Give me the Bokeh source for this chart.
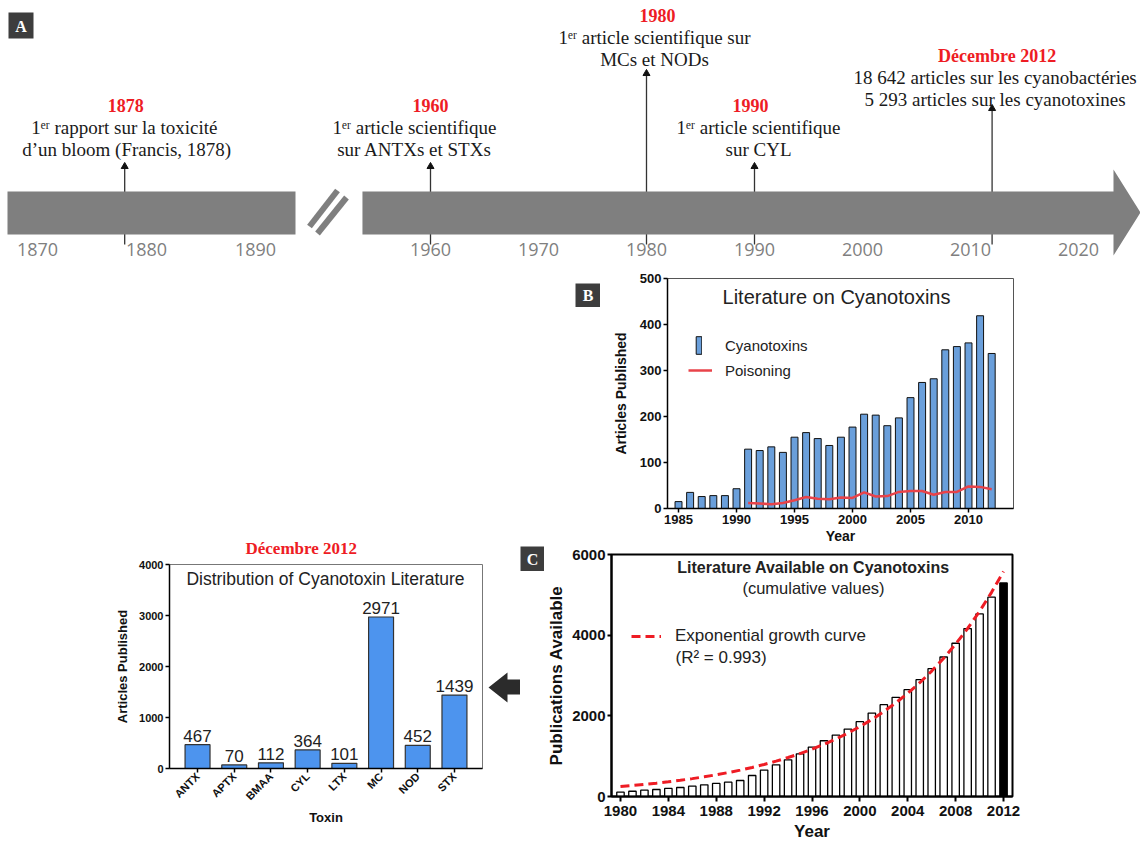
import math
from bokeh.plotting import figure
from bokeh.models import Range1d, FactorRange, Label, Legend, LegendItem, Spacer, FixedTicker
from bokeh.layouts import column, row
from bokeh.embed import file_html
from bokeh.resources import INLINE
from bokeh.core.properties import value

SERIF = "Liberation Serif"
SANS = "Liberation Sans"
RED = "#ee1c24"
TL_GRAY = "#7f7f7f"
BOX_GRAY = "#3d3d3d"

# ---------------- DATA ----------------
timeline_ticks_early = [1870, 1880, 1890]
timeline_ticks_late = [1960, 1970, 1980, 1990, 2000, 2010, 2020]

event_years_early = [1878]
event_titles_early = ["1878"]
event_line1_early = ["1ᵉʳ rapport  sur la toxicité"]
event_line2_early = ["d’un bloom (Francis, 1878)"]

event_years_late = [1960, 1980, 1990, 2012]
event_titles_late = ["1960", "1980", "1990", "Décembre 2012"]
event_line1_late = ["1ᵉʳ article scientifique", "1ᵉʳ article scientifique sur",
                    "1ᵉʳ article scientifique", "18 642 articles sur les cyanobactéries"]
event_line2_late = ["sur ANTXs et STXs", "MCs et NODs", "sur CYL",
                    "5 293 articles sur les cyanotoxines"]

years_b = list(range(1985, 2013))
cyanotoxins_b = [15, 35, 26, 28, 28, 43, 129, 126, 134, 122, 155, 165, 152, 137,
                 155, 177, 205, 203, 180, 197, 241, 274, 282, 345, 352, 360, 419, 337]
years_poison = list(range(1991, 2013))
poisoning_b = [12, 11, 9, 12, 18, 25, 21, 20, 24, 23, 35, 26, 27, 36, 38, 38,
               30, 36, 36, 48, 47, 42]

years_c = list(range(1980, 2013))
cumulative_c = [108, 130, 157, 174, 200, 223, 257, 290, 323, 356, 397, 521, 654,
                786, 910, 1059, 1225, 1382, 1523, 1672, 1854, 2069, 2276, 2458,
                2648, 2897, 3170, 3459, 3799, 4163, 4527, 4941, 5293]
growth_curve_c = [247, 272, 300, 331, 365, 402, 443, 488, 538, 593, 654, 721, 795,
                  876, 966, 1065, 1174, 1294, 1426, 1572, 1733, 1910, 2106, 2321,
                  2559, 2821, 3110, 3428, 3779, 4166, 4592, 5062, 5580]

toxins = ["ANTX", "APTX", "BMAA", "CYL", "LTX", "MC", "NOD", "STX"]
toxin_counts = [467, 70, 112, 364, 101, 2971, 452, 1439]

# ---------------- LAYOUT POSITIONS (panel A, pixel rows / offsets) ----------------
title_y_early = [105]
title_y_late = [105, 15, 105, 55]
tip_y_early = [163]
tip_y_late = [163, 70, 163, 105]
title_dx_early = [1]
title_dx_late = [0, 11, -4, 5]
text_dx_early = [2]
text_dx_late = [-16, 8, 4, 3]


def common(**kw):
    return dict(output_backend="svg", toolbar_location=None, **kw)


# ---------------- PANEL A : timeline ----------------
pa = figure(width=1140, height=267, x_range=Range1d(0, 1140), y_range=Range1d(267, 0),
            x_axis_location=None, y_axis_location=None, min_border=0,
            outline_line_color=None, **common())
pa.grid.visible = False
pa.extra_x_ranges = {"early": Range1d(1866.606, 1971.193),
                     "late": Range1d(1920.185, 2025.741)}


def events(xs, titles, l1, l2, ty, tips, tdx, ldx, rng):
    pa.segment(x0=xs, y0=[244] * len(xs), x1=xs, y1=[t + 4 for t in tips],
               line_color="#333333", line_width=1.3, x_range_name=rng)
    pa.scatter(x=xs, y=[t + 3 for t in tips], marker="triangle", size=7,
               fill_color="#111111", line_color="#111111", x_range_name=rng)
    pa.text(x=xs, y=ty, text=titles, x_offset=tdx, x_range_name=rng, text_align="center",
            text_baseline="middle", text_font=value(SERIF), text_font_style="bold",
            text_font_size="18px", text_color=RED)
    pa.text(x=xs, y=[t + 22 for t in ty], text=l1, x_offset=ldx, x_range_name=rng,
            text_align="center", text_baseline="middle", text_font=value(SERIF),
            text_font_size="19px", text_color="#1a1a1a")
    pa.text(x=xs, y=[t + 44 for t in ty], text=l2, x_offset=ldx, x_range_name=rng,
            text_align="center", text_baseline="middle", text_font=value(SERIF),
            text_font_size="19px", text_color="#1a1a1a")


events(event_years_early, event_titles_early, event_line1_early, event_line2_early,
       title_y_early, tip_y_early, title_dx_early, text_dx_early, "early")
events(event_years_late, event_titles_late, event_line1_late, event_line2_late,
       title_y_late, tip_y_late, title_dx_late, text_dx_late, "late")

# timeline bars
pa.quad(left=[1867.248], right=[1893.67], top=[191], bottom=[234], x_range_name="early",
        fill_color=TL_GRAY, line_color=None)
pa.patch(x=[1953.70, 2023.24, 2023.24, 2025.741, 2023.24, 2023.24, 1953.70],
         y=[191, 191, 169, 212, 255, 234, 234], x_range_name="late",
         fill_color=TL_GRAY, line_color=None)
# break marks
pa.segment(x0=[309, 317], y0=[226, 233], x1=[337, 346], y1=[190, 197],
           line_color=TL_GRAY, line_width=6)
# timeline tick labels
for ticks, rng in ((timeline_ticks_early, "early"), (timeline_ticks_late, "late")):
    pa.text(x=ticks, y=[249] * len(ticks), text=[str(t) for t in ticks], x_range_name=rng,
            text_align="center", text_baseline="middle", text_font=value("Open Sans"),
            text_font_size="18px", text_color=TL_GRAY)
# panel letter A
pa.rect(x=[20.5], y=[25], width=25, height=26, fill_color=BOX_GRAY, line_color=None)
pa.text(x=[20.5], y=[26], text=["A"], text_align="center", text_baseline="middle",
        text_font=value(SERIF), text_font_style="bold", text_font_size="16px",
        text_color="white")


def letter_fig(letter, w, h):
    f = figure(width=w, height=h, x_range=Range1d(0, 1), y_range=Range1d(0, 1),
               x_axis_location=None, y_axis_location=None, min_border=0,
               outline_line_color=None, background_fill_color=BOX_GRAY,
               border_fill_color=BOX_GRAY, **common())
    f.grid.visible = False
    f.text(x=[0.5], y=[0.5], text=[letter], text_align="center", text_baseline="middle",
           text_font=value(SERIF), text_font_style="bold", text_font_size="16px",
           text_color="white")
    return f


def style_axes(p, tick_size, label_size, line_w):
    for ax in (p.xaxis[0], p.yaxis[0]):
        ax.axis_line_width = line_w
        ax.axis_line_color = "black"
        ax.major_tick_line_width = line_w
        ax.major_tick_line_color = "black"
        ax.major_tick_in = 0
        ax.major_tick_out = 4
        ax.minor_tick_line_color = None
        ax.major_label_text_font = SANS
        ax.major_label_text_font_style = "bold"
        ax.major_label_text_font_size = tick_size
        ax.major_label_text_color = "#111111"
        ax.major_label_standoff = 2
        ax.axis_label_text_font = SANS
        ax.axis_label_text_font_style = "bold"
        ax.axis_label_text_font_size = label_size
        ax.axis_label_text_color = "#111111"
        ax.axis_label_standoff = 1
    p.grid.visible = False


# ---------------- PANEL B ----------------
pb = figure(width=540, height=279, x_range=Range1d(1984.05, 2013.88), y_range=Range1d(0, 500),
            min_border_left=67, min_border_right=127, min_border_top=11, min_border_bottom=38,
            outline_line_color="#555555", **common())
bars_b = pb.vbar(x=years_b, top=cyanotoxins_b, width=0.6, fill_color="#6a9fdb",
                 line_color="#111111", line_width=1)
line_b = pb.line(years_poison, poisoning_b, line_color="#e8434a", line_width=2.5)
style_axes(pb, "13px", "14px", 1.5)
pb.xaxis.ticker = FixedTicker(ticks=[1985, 1990, 1995, 2000, 2005, 2010])
pb.yaxis.ticker = FixedTicker(ticks=[0, 100, 200, 300, 400, 500])
pb.xaxis.axis_label = "Year"
pb.yaxis.axis_label = "Articles Published"
pb.yaxis.axis_label_standoff = 8
for item, loc, gw, gh, st in (
        (LegendItem(label="Cyanotoxins", renderers=[bars_b]), (28, 152), 7, 22, 23),
        (LegendItem(label="Poisoning", renderers=[line_b]), (21, 128), 24, 20, 13)):
    pb.add_layout(Legend(items=[item], location=loc, glyph_width=gw, glyph_height=gh,
                         label_standoff=st, padding=0, margin=0, border_line_color=None,
                         background_fill_alpha=0, label_text_font=SANS,
                         label_text_font_size="15px", label_text_color="#222222"))
pb.add_layout(Label(x=169, y=212, x_units="screen", y_units="screen",
                    text="Literature on Cyanotoxins", text_align="center",
                    text_baseline="middle", text_font=SANS, text_font_size="20px",
                    text_color="#222222"))

# ---------------- PANEL C ----------------
pc = figure(width=596, height=298, x_range=Range1d(1979.25, 2012.75), y_range=Range1d(0, 6000),
            min_border_left=64, min_border_right=128, min_border_top=8, min_border_bottom=48,
            outline_line_color="black", outline_line_width=2, **common())
fills_c = ["white"] * (len(years_c) - 1) + ["black"]
pc.vbar(x=years_c, top=cumulative_c, width=0.62, fill_color=fills_c,
        line_color="black", line_width=1.3)
curve_c = pc.line(years_c, growth_curve_c, line_color="#ee1c24", line_width=3,
                  line_dash="9 5")
style_axes(pc, "15px", "17px", 2)
pc.xaxis.ticker = FixedTicker(ticks=list(range(1980, 2013, 4)))
pc.yaxis.ticker = FixedTicker(ticks=[0, 2000, 4000, 6000])
pc.xaxis.major_tick_out = 5
pc.xaxis.major_label_standoff = 4
pc.xaxis.axis_label = "Year"
pc.yaxis.axis_label = "Publications Available"
pc.yaxis.axis_label_standoff = 3
pc.xaxis.axis_label_standoff = 3
pc.add_layout(Legend(items=[LegendItem(label="Exponential growth curve", renderers=[curve_c])],
                     location=(20, 150), glyph_width=30, glyph_height=20, label_standoff=14,
                     padding=0, margin=0, border_line_color=None, background_fill_alpha=0,
                     label_text_font=SANS, label_text_font_size="17px",
                     label_text_color="#222222"))
pc.add_layout(Label(x=64, y=139, x_units="screen", y_units="screen", text="(R² = 0.993)",
                    text_align="left", text_baseline="middle", text_font=SANS,
                    text_font_size="17px", text_color="#222222"))
pc.add_layout(Label(x=202, y=229, x_units="screen", y_units="screen",
                    text="Literature Available on Cyanotoxins", text_align="center",
                    text_baseline="middle", text_font=SANS, text_font_style="bold",
                    text_font_size="16px", text_color="#222222"))
pc.add_layout(Label(x=202, y=209, x_units="screen", y_units="screen",
                    text="(cumulative values)", text_align="center",
                    text_baseline="middle", text_font=SANS, text_font_size="16.5px",
                    text_color="#222222"))

# ---------------- LEFT : distribution ----------------
pl = figure(width=487, height=299, x_range=FactorRange(*toxins, range_padding=0.066),
            y_range=Range1d(0, 4000), title="Décembre 2012",
            min_border_left=169, min_border_right=5, min_border_top=33, min_border_bottom=61,
            outline_line_color="#777777", **common())
pl.title.text_font = SERIF
pl.title.text_font_style = "bold"
pl.title.text_font_size = "17px"
pl.title.text_color = RED
pl.title.align = "left"
pl.title.offset = 76
pl.title.standoff = 13
pl.vbar(x=toxins, top=toxin_counts, width=0.68, fill_color="#4d94ee",
        line_color="#333333", line_width=1.2)
pl.text(x=toxins, y=toxin_counts, text=[str(v) for v in toxin_counts], y_offset=-3,
        text_align="center", text_baseline="bottom", text_font=value(SANS),
        text_font_size="17px", text_color="#222222")
style_axes(pl, "11px", "13px", 1.5)
pl.yaxis.ticker = FixedTicker(ticks=[0, 1000, 2000, 3000, 4000])
pl.xaxis.major_label_orientation = math.pi / 4
pl.xaxis.axis_label = "Toxin"
pl.yaxis.axis_label = "Articles Published"
pl.yaxis.axis_label_standoff = 6
pl.add_layout(Label(x=156, y=190, x_units="screen", y_units="screen",
                    text="Distribution of Cyanotoxin Literature", text_align="center",
                    text_baseline="middle", text_font=SANS, text_font_size="17.5px",
                    text_color="#222222"))

# ---------------- ARROW ----------------
parrow = figure(width=33, height=56, x_range=Range1d(487, 520), y_range=Range1d(716, 660),
                x_axis_location=None, y_axis_location=None, min_border=0,
                outline_line_color=None, **common())
parrow.grid.visible = False
parrow.patch([488, 507, 507, 520, 520, 507, 507], [687, 672, 679, 679, 694, 694, 702],
             fill_color="#2b2b2b", line_color=None)

box_b = letter_fig("B", 25, 24)
box_c = letter_fig("C", 24, 25)
left_col = column(Spacer(width=487, height=263), pl)
arrow_col = column(Spacer(width=33, height=393), parrow)
row_b = row(Spacer(width=55, height=1), column(Spacer(width=25, height=16), box_b), pb)
row_c = row(column(box_c, Spacer(width=24, height=10)), pc)
right_col = column(row_b, row_c)
layout = column(pa, row(left_col, arrow_col, right_col))

open("out.html", "w").write(file_html(layout, INLINE, "Cyanotoxines"))
